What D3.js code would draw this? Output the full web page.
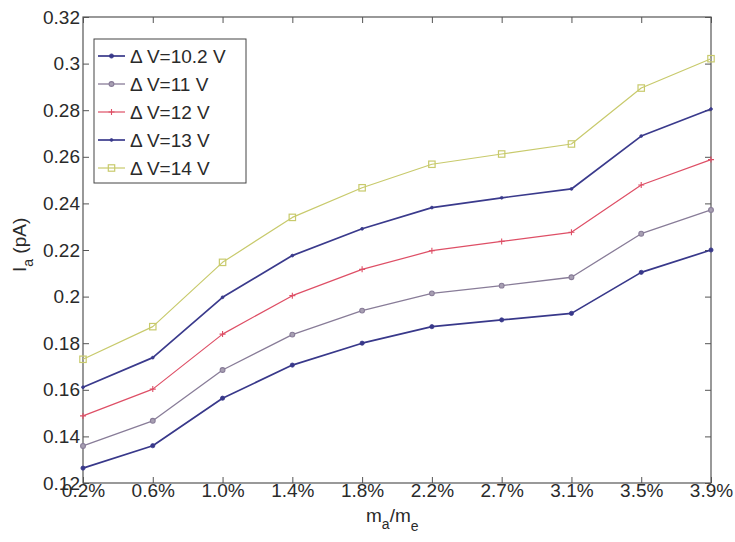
<!DOCTYPE html>
<html>
<head>
<meta charset="utf-8">
<script src="https://cdn.jsdelivr.net/npm/d3@7"></script>
<style>
  html, body { margin: 0; padding: 0; background: #fff; }
  svg { display: block; font-family: "Liberation Sans", Arial, sans-serif; }
</style>
</head>
<body>
<svg id="chart" width="735" height="542"></svg>
<script>
// Mass ratio categories along the x axis
const categories = ["0.2%", "0.6%", "1.0%", "1.4%", "1.8%", "2.2%", "2.7%", "3.1%", "3.5%", "3.9%"];

// Current I_a (pA) for each applied voltage difference
const seriesNames = ["\u0394 V=10.2 V", "\u0394 V=11 V", "\u0394 V=12 V", "\u0394 V=13 V", "\u0394 V=14 V"];
const dv102 = [0.1264, 0.1360, 0.1564, 0.1706, 0.1800, 0.1871, 0.1900, 0.1928, 0.2104, 0.2200];
const dv11  = [0.1359, 0.1467, 0.1685, 0.1837, 0.1940, 0.2014, 0.2047, 0.2083, 0.2270, 0.2372];
const dv12  = [0.1488, 0.1603, 0.1839, 0.2004, 0.2117, 0.2197, 0.2237, 0.2276, 0.2479, 0.2588];
const dv13  = [0.1611, 0.1738, 0.1997, 0.2176, 0.2291, 0.2382, 0.2424, 0.2462, 0.2689, 0.2805];
const dv14  = [0.1731, 0.1871, 0.2147, 0.2340, 0.2467, 0.2568, 0.2612, 0.2655, 0.2895, 0.3021];

const yTicks = [0.12, 0.14, 0.16, 0.18, 0.2, 0.22, 0.24, 0.26, 0.28, 0.3, 0.32];

const seriesValues = [dv102, dv11, dv12, dv13, dv14];
const styles = [
  { color: "#38388a", width: 1.7, marker: "dot", size: 2.1 },
  { color: "#887c98", width: 1.3, marker: "circle", size: 2.4 },
  { color: "#de4f66", width: 1.2, marker: "plus", size: 3 },
  { color: "#3a3a8c", width: 1.7, marker: "dot", size: 1.4 },
  { color: "#c8ca6c", width: 1.2, marker: "square", size: 3.2 }
];

const svg = d3.select("#chart");
const plotLeft = 83, plotRight = 711, plotTop = 17, plotBottom = 483;

const x = d3.scalePoint().domain(categories).range([plotLeft, plotRight]).padding(0);
const y = d3.scaleLinear().domain([0.12, 0.32]).range([plotBottom, plotTop]);

const axisColor = "#555";
const textColor = "#2a2a2a";
const tickLen = 6;
const fontSize = "19px";

// Plot frame
svg.append("rect")
  .attr("x", plotLeft).attr("y", plotTop)
  .attr("width", plotRight - plotLeft).attr("height", plotBottom - plotTop)
  .attr("fill", "#fff").attr("stroke", axisColor).attr("stroke-width", 1.2);

// Inward ticks on all four sides
const gx = svg.append("g").attr("transform", `translate(0,${plotBottom})`)
  .call(d3.axisBottom(x).tickSize(-tickLen).tickPadding(4));
const gxTop = svg.append("g").attr("transform", `translate(0,${plotTop})`)
  .call(d3.axisTop(x).tickSize(-tickLen).tickFormat(""));
const gy = svg.append("g").attr("transform", `translate(${plotLeft},0)`)
  .call(d3.axisLeft(y).tickValues(yTicks).tickSize(-tickLen).tickPadding(4).tickFormat(d3.format("~g")));
const gyRight = svg.append("g").attr("transform", `translate(${plotRight},0)`)
  .call(d3.axisRight(y).tickValues(yTicks).tickSize(-tickLen).tickFormat(""));

[gx, gxTop, gy, gyRight].forEach(g => {
  g.select(".domain").remove();
  g.selectAll(".tick line").attr("stroke", axisColor).attr("stroke-width", 1);
  g.selectAll("text").attr("fill", textColor).style("font-size", fontSize)
    .style("font-family", "'Liberation Sans', Arial, sans-serif");
});
gx.selectAll("text").attr("dy", "0.72em").attr("y", 0);
gy.selectAll("text").attr("x", -3);

// Axis labels
const xl = svg.append("text")
  .attr("x", 366).attr("y", 522)
  .attr("fill", textColor).style("font-size", fontSize);
xl.append("tspan").text("m");
xl.append("tspan").attr("dy", 7).style("font-size", "14px").text("a");
xl.append("tspan").attr("dy", -7).text("/m");
xl.append("tspan").attr("dy", 9).style("font-size", "14px").text("e");

const yl = svg.append("text")
  .attr("transform", "translate(26,272) rotate(-90)")
  .attr("fill", textColor).style("font-size", fontSize);
yl.append("tspan").text("I");
yl.append("tspan").attr("dy", 7).style("font-size", "14px").text("a");
yl.append("tspan").attr("dy", -7).text(" (pA)");

// Marker drawing
function drawMarker(g, s, cx, cy) {
  if (s.marker === "dot") {
    g.append("circle").attr("cx", cx).attr("cy", cy).attr("r", s.size)
      .attr("fill", s.color).attr("stroke", s.color).attr("stroke-width", 0.8);
  } else if (s.marker === "circle") {
    g.append("circle").attr("cx", cx).attr("cy", cy).attr("r", s.size)
      .attr("fill", "#a79fb2").attr("stroke", s.color).attr("stroke-width", 1.1);
  } else if (s.marker === "plus") {
    g.append("path")
      .attr("d", `M${cx - s.size},${cy}H${cx + s.size}M${cx},${cy - s.size}V${cy + s.size}`)
      .attr("stroke", s.color).attr("stroke-width", 1.1).attr("fill", "none");
  } else if (s.marker === "square") {
    g.append("rect").attr("x", cx - s.size).attr("y", cy - s.size)
      .attr("width", 2 * s.size).attr("height", 2 * s.size)
      .attr("fill", "none").attr("stroke", s.color).attr("stroke-width", 1.2);
  }
}

const line = d3.line().x((d, i) => x(categories[i])).y(d => y(d));

seriesValues.forEach((vals, k) => {
  const s = styles[k];
  const g = svg.append("g");
  g.append("path").datum(vals).attr("d", line)
    .attr("fill", "none").attr("stroke", s.color).attr("stroke-width", s.width)
    .attr("stroke-linejoin", "round");
  vals.forEach((v, i) => drawMarker(g, s, x(categories[i]), y(v)));
});

// Legend
const lg = svg.append("g");
lg.append("rect").attr("x", 94).attr("y", 39).attr("width", 152).attr("height", 144)
  .attr("fill", "#fff").attr("stroke", "#444").attr("stroke-width", 1);
seriesNames.forEach((name, k) => {
  const s = styles[k];
  const yy = 56 + k * 28;
  lg.append("line").attr("x1", 98).attr("x2", 125).attr("y1", yy).attr("y2", yy)
    .attr("stroke", s.color).attr("stroke-width", s.width);
  drawMarker(lg, s, 111.5, yy);
  lg.append("text").attr("x", 130).attr("y", yy).attr("dy", "0.36em")
    .attr("fill", textColor).style("font-size", fontSize).text(name);
});
</script>
</body>
</html>
